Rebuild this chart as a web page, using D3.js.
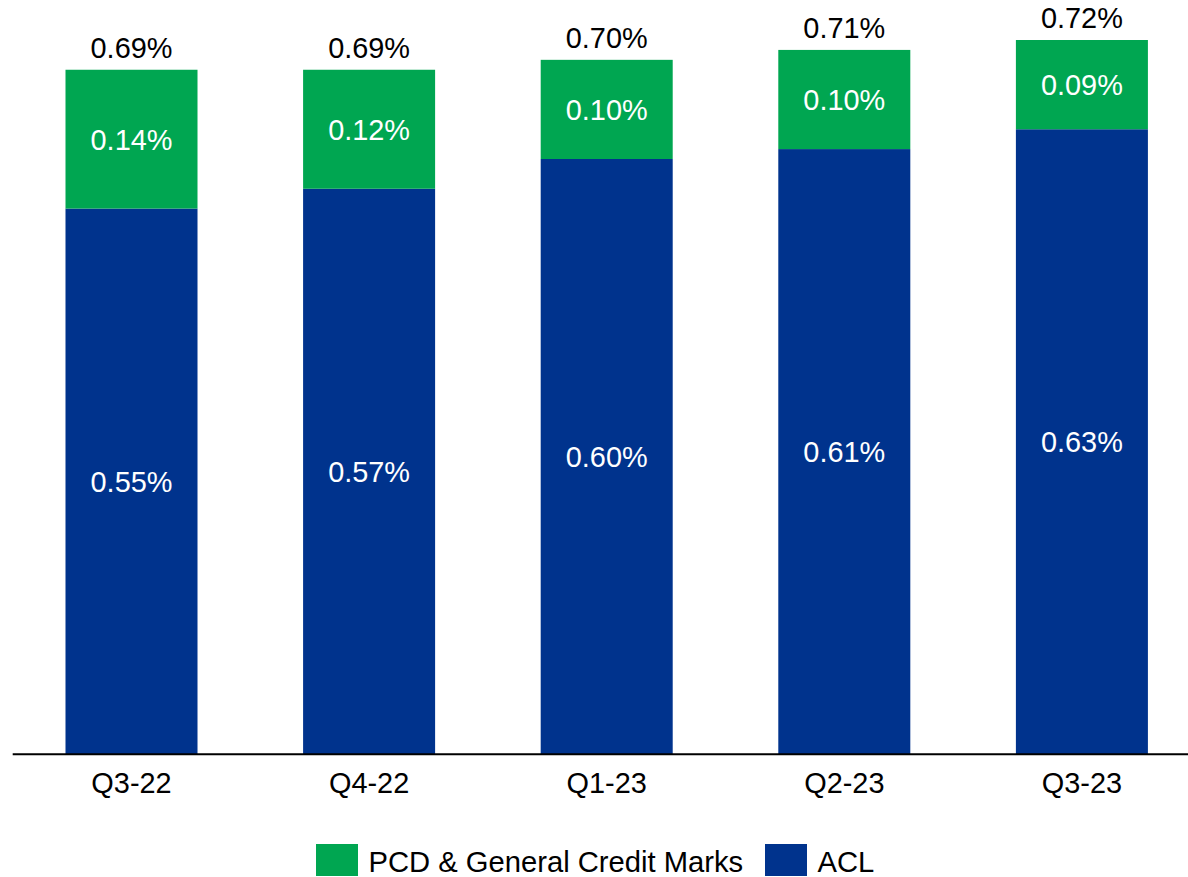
<!DOCTYPE html>
<html>
<head>
<meta charset="utf-8">
<script src="https://cdn.jsdelivr.net/npm/d3@7"></script>
<style>
  html, body { margin: 0; padding: 0; background: #fff; }
  svg { display: block; font-family: "Liberation Sans", Arial, sans-serif; }
</style>
</head>
<body>
<svg id="chart" width="1188" height="877"></svg>
<script>
const categories = ["Q3-22", "Q4-22", "Q1-23", "Q2-23", "Q3-23"];
const aclValues = [0.55, 0.57, 0.60, 0.61, 0.63];
const pcdValues = [0.14, 0.12, 0.10, 0.10, 0.09];
const totalValues = [0.69, 0.69, 0.70, 0.71, 0.72];
const seriesNames = ["PCD & General Credit Marks", "ACL"];
const colors = { pcd: "#00A651", acl: "#00338D" };

const svg = d3.select("#chart");
const fs = 28.9;
const legendFs = 29.2;
const fmt = v => v.toFixed(2) + "%";

const x = d3.scaleBand()
  .domain(categories)
  .range([12.7, 1200.7])
  .paddingInner(0.4444)
  .paddingOuter(0.2222);

const y = d3.scaleLinear().domain([0, 0.72]).range([754, 40]);

const rows = categories.map((c, i) => ({ c, acl: aclValues[i], pcd: pcdValues[i], total: totalValues[i] }));

// ACL segments
svg.append("g").selectAll("rect").data(rows).join("rect")
  .attr("x", d => x(d.c))
  .attr("width", x.bandwidth())
  .attr("y", d => y(d.acl))
  .attr("height", d => y(0) - y(d.acl))
  .attr("fill", colors.acl);

// PCD segments
svg.append("g").selectAll("rect").data(rows).join("rect")
  .attr("x", d => x(d.c))
  .attr("width", x.bandwidth())
  .attr("y", d => y(d.acl + d.pcd))
  .attr("height", d => y(d.acl) - y(d.acl + d.pcd))
  .attr("fill", colors.pcd);

// Inside labels
svg.append("g").selectAll("text").data(rows).join("text")
  .attr("x", d => x(d.c) + x.bandwidth() / 2)
  .attr("y", d => (y(0) + y(d.acl)) / 2 + fs * 0.358)
  .attr("text-anchor", "middle")
  .attr("font-size", fs)
  .attr("fill", "#fff")
  .text(d => fmt(d.acl));

svg.append("g").selectAll("text").data(rows).join("text")
  .attr("x", d => x(d.c) + x.bandwidth() / 2)
  .attr("y", d => (y(d.acl) + y(d.acl + d.pcd)) / 2 + fs * 0.358)
  .attr("text-anchor", "middle")
  .attr("font-size", fs)
  .attr("fill", "#fff")
  .text(d => fmt(d.pcd));

// Total labels
svg.append("g").selectAll("text").data(rows).join("text")
  .attr("x", d => x(d.c) + x.bandwidth() / 2)
  .attr("y", d => y(d.total) - 11.7)
  .attr("text-anchor", "middle")
  .attr("font-size", fs)
  .attr("fill", "#000")
  .text(d => fmt(d.total));

// X axis
const xAxis = svg.append("g")
  .attr("transform", `translate(0, ${y(0)})`)
  .call(d3.axisBottom(x).tickSize(0).tickPadding(0));
xAxis.select(".domain").remove();
xAxis.append("line")
  .attr("x1", 12.7).attr("x2", 1188)
  .attr("y1", 0.3).attr("y2", 0.3)
  .attr("stroke", "#000").attr("stroke-width", 2);
xAxis.selectAll(".tick text")
  .attr("dy", null)
  .attr("y", 39.3)
  .attr("font-size", fs)
  .attr("font-family", "Liberation Sans, Arial, sans-serif")
  .attr("fill", "#000");

// Legend
const legend = svg.append("g");
const legendItems = [
  { name: seriesNames[0], color: colors.pcd, x: 316 },
  { name: seriesNames[1], color: colors.acl, x: 765 }
];
legendItems.forEach(it => {
  legend.append("rect")
    .attr("x", it.x).attr("y", 844)
    .attr("width", 42).attr("height", 32)
    .attr("fill", it.color);
  legend.append("text")
    .attr("x", it.x + 52.5).attr("y", 872.3)
    .attr("font-size", legendFs)
    .attr("fill", "#000")
    .text(it.name);
});
</script>
</body>
</html>
